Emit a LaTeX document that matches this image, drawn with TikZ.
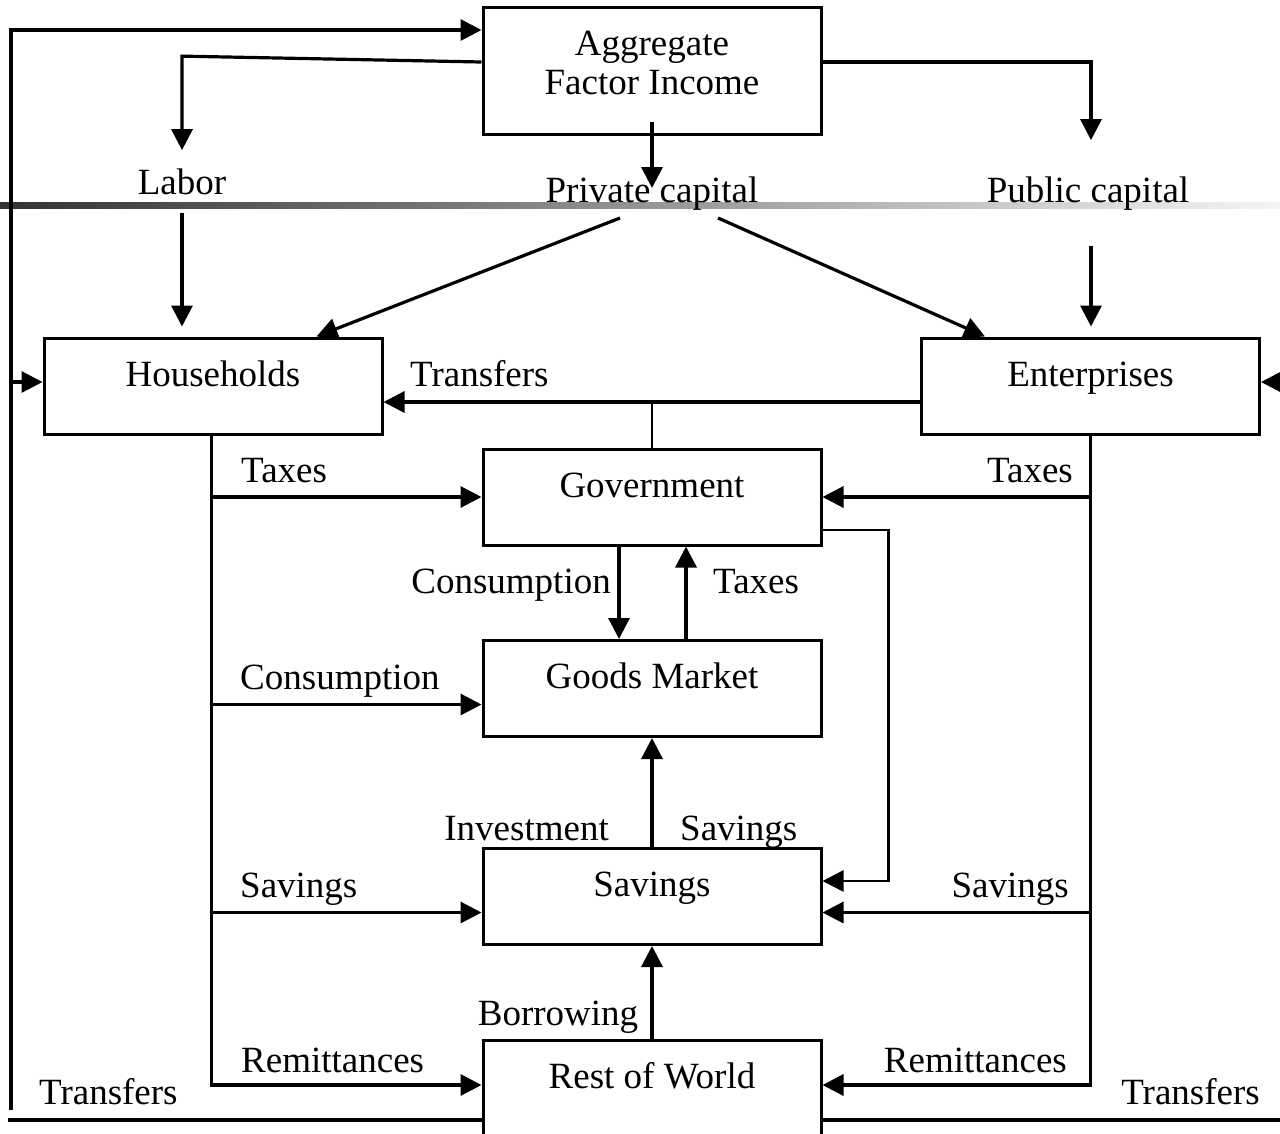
\documentclass[tikz,border=0pt]{standalone}
\usepackage{fontspec}
\setmainfont{Liberation Serif}
\usetikzlibrary{arrows.meta,calc}

\begin{document}
\begin{tikzpicture}[x=1pt,y=-1pt,
    every node/.style={font=\fontsize{37}{39}\selectfont},
    box/.style={draw,line width=3pt,minimum width=338pt,inner sep=0pt,text height=48pt,text depth=48pt},
    lbl/.style={inner sep=0pt},
    ln/.style={line width=3.2pt},
    arr/.style={line width=3.2pt,-{Triangle[length=21pt,width=21pt]}}]
  \useasboundingbox (0,0) rectangle (1280,1133);
  \shade[left color=black!80,right color=black!4] (0,202) rectangle (1280,208);

  % sectors
  \node[box,text depth=79pt] (agg) at (652,70.5) {\begin{tabular}[t]{@{}c@{}}Aggregate\\Factor Income\end{tabular}};
  \node[box] (hh) at (213,386) {Households};
  \node[box] (ent) at (1090.5,386) {Enterprises};
  \node[box] (gov) at (652,497) {Government};
  \node[box] (goods) at (652,688.5) {Goods Market};
  \node[box] (sav) at (652,896.5) {Savings};
  \node[box] (row) at (652,1088) {Rest of World};

  % factors
  \node[lbl,inner ysep=18pt,anchor=base] (labor) at (182,194) {Labor};
  \node[lbl,anchor=base] (pc) at (652,202) {Private capital};
  \node[lbl,inner ysep=36pt,anchor=base] (pub) at (1088,202) {Public capital};

  % flow labels
  \node[lbl,anchor=base west] (trf) at (410,386) {Transfers};
  \node[lbl,anchor=base west] (taxl) at (241,482) {Taxes};
  \node[lbl,anchor=base east] (taxr) at (1073,482) {Taxes};
  \node[lbl,anchor=base east] (conm) at (611,593) {Consumption};
  \node[lbl,anchor=base west] (taxm) at (713,593) {Taxes};
  \node[lbl,anchor=base west] (conl) at (240,689) {Consumption};
  \node[lbl,anchor=base east] (inv) at (609,840) {Investment};
  \node[lbl,anchor=base west] (savm) at (680,840) {Savings};
  \node[lbl,anchor=base west] (savl) at (240,897) {Savings};
  \node[lbl,anchor=base east] (savr) at (1069,897) {Savings};
  \node[lbl,anchor=base] (bor) at (558,1025) {Borrowing};
  \node[lbl,anchor=base west] (reml) at (241,1072) {Remittances};
  \node[lbl,anchor=base east] (remr) at (1067,1072) {Remittances};
  \node[lbl,anchor=base west] (trfl) at (39,1104) {Transfers};
  \node[lbl,anchor=base east] (trfr) at (1260,1104) {Transfers};

  % factor income
  \draw[arr] ($(agg.west)+(0,-8.5)$) -- ($(labor.north)+(0,-94)$) -- (labor.north);
  \draw[arr] ($(agg.south)+(0,-14)$) -- ($(pc.base)+(0,-14)$);
  \draw[arr] ($(agg.east)+(0,-8.5)$) -| ($(pub.north)+(3,0)$);
  \draw[arr,shorten >=10pt] (labor.south) -- (labor.south |- hh.north);
  \draw[arr] ($(pc.base)+(-32,16)$) -- ($(hh.north west)+(274,0)$);
  \draw[arr] ($(pc.base)+(66,16)$) -- ($(ent.north west)+(65,0)$);
  \draw[arr,shorten >=10pt] ($(pub.south)+(3,0)$) -- ($(pub.south |- ent.north)+(3,0)$);

  % transfers
  \draw[arr] ($(ent.west)+(0,16)$) -- ($(hh.east)+(0,16)$);
  \draw[ln,line width=2.4pt] (gov.north) -- ++(0,-47);

  % household and enterprise spending
  \coordinate (hs) at ($(hh.south west)+(169,0)$);
  \draw[ln] (hs) -- ++(0,651);
  \foreach \n/\dy in {gov/0,goods/16,sav/16,row/-3}
    \draw[arr] ($(hs |- \n.west)+(0,\dy)$) -- ($(\n.west)+(0,\dy)$);
  \draw[ln] (ent.south) -- ++(0,651);
  \foreach \n/\dy in {gov/0,sav/16,row/-3}
    \draw[arr] ($(ent.south |- \n.east)+(0,\dy)$) -- ($(\n.east)+(0,\dy)$);

  % government, market, savings
  \draw[arr,line width=2.6pt] ($(gov.east)+(0,33)$) -| ($(sav.east)+(66,-15.5)$) -- ($(sav.east)+(0,-15.5)$);
  \draw[arr] ($(gov.south)+(-33,0)$) -- ($(goods.north)+(-33,0)$);
  \draw[arr] ($(goods.north)+(34,0)$) -- ($(gov.south)+(34,0)$);
  \draw[arr] (sav.north) -- (goods.south);
  \draw[arr] (row.north) -- (sav.south);

  % outer loop
  \coordinate (lb) at (11,1110);
  \coordinate (lt) at (8,1120);
  \coordinate (rt) at (1280,1120);
  \draw[arr] (lb) |- ($(agg.west)+(0,-40.5)$);
  \draw[arr] ($(lb |- hh.west)+(0,-4)$) -- ($(hh.west)+(0,-4)$);
  \draw[ln] (lt) -- (lt -| row.west);
  \draw[ln] (rt -| row.east) -- (rt);
  \draw[arr] ($(rt |- ent.east)+(0,-4)$) -- ($(ent.east)+(0,-4)$);
\end{tikzpicture}
\end{document}
